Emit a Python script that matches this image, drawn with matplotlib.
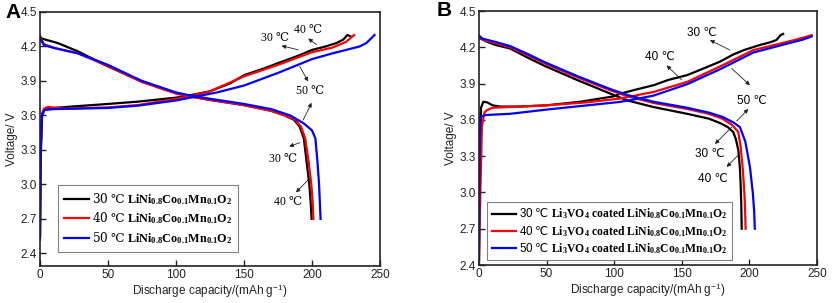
import matplotlib
matplotlib.use("Agg")
import matplotlib.pyplot as plt

plt.rcParams['font.family'] = ['Liberation Sans', 'DejaVu Sans']
plt.rcParams['mathtext.fontset'] = 'custom'
plt.rcParams['mathtext.rm'] = 'DejaVu Serif'
plt.rcParams['mathtext.bf'] = 'Liberation Serif:bold'
plt.rcParams['mathtext.it'] = 'Liberation Serif'
plt.rcParams['mathtext.sf'] = 'Liberation Sans'
plt.rcParams['mathtext.tt'] = 'DejaVu Sans'

# ---------------- Panel A data ----------------
A_ch30_x = [0, 0.5, 1.5, 3, 8, 23, 50, 72, 100, 108, 125, 140, 150, 165, 175, 190, 200, 210, 218, 223, 226, 228]
A_ch30_y = [2.55, 3.3, 3.6, 3.65, 3.663, 3.677, 3.70, 3.72, 3.755, 3.77, 3.81, 3.88, 3.95, 4.01, 4.055, 4.12, 4.17, 4.20, 4.23, 4.26, 4.30, 4.29]
A_ch40_x = [0, 0.5, 1.5, 3, 6, 10, 20, 50, 72, 100, 110, 125, 150, 175, 200, 215, 225, 231]
A_ch40_y = [2.55, 3.3, 3.62, 3.66, 3.675, 3.668, 3.66, 3.67, 3.69, 3.745, 3.765, 3.81, 3.94, 4.04, 4.15, 4.19, 4.24, 4.30]
A_ch50_x = [0, 0.5, 1.5, 3.4, 10, 30, 50, 72, 100, 115, 130, 150, 175, 200, 215, 225, 235, 240, 246]
A_ch50_y = [2.52, 3.2, 3.6, 3.648, 3.655, 3.66, 3.665, 3.685, 3.73, 3.765, 3.80, 3.86, 3.97, 4.09, 4.14, 4.17, 4.20, 4.23, 4.30]

A_dc30_x = [0, 1, 13, 28, 47.5, 72, 96.5, 106, 125, 150, 170, 180, 187, 191, 194, 196, 198, 199, 199.7]
A_dc30_y = [4.29, 4.27, 4.23, 4.157, 4.04, 3.91, 3.81, 3.775, 3.735, 3.69, 3.64, 3.60, 3.56, 3.50, 3.40, 3.20, 3.0, 2.85, 2.70]
A_dc40_x = [0, 3, 10.8, 28, 50, 75, 100, 110, 125, 150, 170, 180, 188, 192, 195, 197.5, 199.5, 200.5, 201]
A_dc40_y = [4.28, 4.22, 4.186, 4.14, 4.03, 3.89, 3.79, 3.765, 3.735, 3.69, 3.64, 3.60, 3.56, 3.50, 3.40, 3.20, 3.0, 2.85, 2.70]
A_dc50_x = [0, 3, 10.8, 28, 50, 75, 100, 110, 125, 150, 170, 184, 194, 200, 202.5, 204, 205.2, 206.3]
A_dc50_y = [4.27, 4.21, 4.186, 4.14, 4.04, 3.90, 3.80, 3.775, 3.745, 3.70, 3.655, 3.60, 3.53, 3.47, 3.40, 3.20, 3.0, 2.70]

# ---------------- Panel B data ----------------
B_ch30_x = [0, 0.5, 1.5, 3.2, 6, 10, 15.5, 30, 50, 75, 100, 104, 116, 129, 140, 154, 165, 178, 188, 196, 208, 215, 220, 223, 225]
B_ch30_y = [2.45, 3.3, 3.70, 3.75, 3.745, 3.72, 3.71, 3.71, 3.72, 3.75, 3.795, 3.815, 3.85, 3.886, 3.93, 3.97, 4.02, 4.08, 4.14, 4.177, 4.22, 4.24, 4.26, 4.30, 4.31]
B_ch40_x = [0, 1, 2.2, 4, 5.9, 10, 20, 50, 80, 104, 115, 129, 154, 178, 203, 228, 240, 246]
B_ch40_y = [2.45, 3.0, 3.55, 3.66, 3.68, 3.70, 3.705, 3.72, 3.745, 3.776, 3.80, 3.83, 3.914, 4.04, 4.177, 4.245, 4.28, 4.30]
B_ch50_x = [0, 0.5, 1, 5, 23, 50, 80, 104, 115, 129, 154, 178, 203, 228, 240, 246]
B_ch50_y = [2.45, 3.3, 3.624, 3.64, 3.65, 3.685, 3.72, 3.748, 3.77, 3.80, 3.895, 4.017, 4.157, 4.23, 4.265, 4.29]

B_dc30_x = [0, 5, 12, 23, 35, 47.8, 72.5, 97.1, 110, 129, 154, 170, 178, 184, 188, 190, 191.8, 193, 193.5, 194, 194.3]
B_dc30_y = [4.28, 4.25, 4.22, 4.19, 4.12, 4.05, 3.93, 3.817, 3.76, 3.706, 3.65, 3.61, 3.575, 3.54, 3.50, 3.44, 3.35, 3.2, 3.07, 2.9, 2.70]
B_dc40_x = [0, 3, 12, 23, 35, 48, 72, 97, 110, 129, 154, 170, 180, 187, 191.8, 193.5, 195, 196, 196.7, 197.2]
B_dc40_y = [4.30, 4.26, 4.235, 4.20, 4.14, 4.07, 3.955, 3.845, 3.795, 3.74, 3.69, 3.65, 3.61, 3.56, 3.50, 3.38, 3.21, 3.05, 2.9, 2.70]
B_dc50_x = [0, 3, 12, 23, 35, 48, 72, 97, 110, 129, 154, 170, 180, 188, 193, 197, 200.4, 202.5, 203.5, 204]
B_dc50_y = [4.29, 4.27, 4.245, 4.21, 4.15, 4.08, 3.965, 3.855, 3.805, 3.75, 3.70, 3.66, 3.625, 3.58, 3.54, 3.42, 3.21, 3.0, 2.85, 2.70]

CEL = "\u2103"
temp_values = ["30", "40", "50"]
temps = [t + " " + CEL for t in temp_values]
colors = ["#000000", "#ff0000", "#0000ff"]
yticks = [2.4, 2.7, 3.0, 3.3, 3.6, 3.9, 4.2, 4.5]
xticks = [0, 50, 100, 150, 200, 250]
compA = r"\mathbf{LiNi_{0.8}Co_{0.1}Mn_{0.1}O_2}"
compB = r"\mathbf{Li_3VO_4\ coated\ LiNi_{0.8}Co_{0.1}Mn_{0.1}O_2}"

labelsA = ["$\\mathit{" + t + "\\ }\\mathrm{" + CEL + "}\\ " + compA + "$" for t in temp_values]
labelsB = ["$\\mathsf{" + t + "\\ }\\mathtt{" + CEL + "}\\ " + compB + "$" for t in temp_values]

fig = plt.figure(figsize=(8.35, 3.03), dpi=100)
axA = fig.add_axes([40/835, 1-266/303, 340/835, 254/303])
axB = fig.add_axes([479/835, 1-265/303, 338/835, 254/303])

lw = 1.6
chA = [(A_ch30_x, A_ch30_y), (A_ch40_x, A_ch40_y), (A_ch50_x, A_ch50_y)]
dcA = [(A_dc30_x, A_dc30_y), (A_dc40_x, A_dc40_y), (A_dc50_x, A_dc50_y)]
chB = [(B_ch30_x, B_ch30_y), (B_ch40_x, B_ch40_y), (B_ch50_x, B_ch50_y)]
dcB = [(B_dc30_x, B_dc30_y), (B_dc40_x, B_dc40_y), (B_dc50_x, B_dc50_y)]

for i in range(3):
    axA.plot(*chA[i], color=colors[i], lw=lw, label=labelsA[i])
    axA.plot(*dcA[i], color=colors[i], lw=lw)
    axB.plot(*chB[i], color=colors[i], lw=lw, label=labelsB[i])
    axB.plot(*dcB[i], color=colors[i], lw=lw)

for ax, ylo in ((axA, 2.29), (axB, 2.4)):
    ax.set_xlim(0, 250)
    ax.set_ylim(ylo, 4.5)
    ax.set_xticks(xticks)
    ax.set_yticks(yticks)
    ax.set_yticklabels([f"{v:.1f}" for v in yticks])
    ax.tick_params(direction='in', length=4, width=1, labelsize=8.5, pad=2, colors='#222222', labelcolor='#222222')
    for s in ax.spines.values():
        s.set_linewidth(1.2)
        s.set_color('#222222')
    ax.set_xlabel("Discharge capacity/(mAh g$^{\\mathsf{-1}}$)", fontsize=8.5, labelpad=1, color='#222222')
    ax.set_ylabel("Voltage/ V", fontsize=8.5, labelpad=2, color='#222222')

legA = axA.legend(loc='upper left', bbox_to_anchor=(0.053, 0.319), borderaxespad=0,
                  prop={'size': 8.7},
                  fancybox=False, edgecolor='#808080', framealpha=1, handlelength=2.1,
                  handletextpad=0.2, labelspacing=0.3, borderpad=0.5)
legA.get_frame().set_linewidth(0.8)
legB = axB.legend(loc='upper left', bbox_to_anchor=(0.024, 0.248), borderaxespad=0,
                  prop={'size': 8.4},
                  fancybox=False, edgecolor='#808080', framealpha=1, handlelength=2.1,
                  handletextpad=0.2, labelspacing=0.2, borderpad=0.4)
legB.get_frame().set_linewidth(0.8)

fig.text(5/835, 1-12/303, "A", fontsize=15, fontweight='bold', va='center', ha='left')
fig.text(437/835, 1-11/303, "B", fontsize=15, fontweight='bold', va='center', ha='left')

ap = dict(arrowstyle='-|>', color='#222222', lw=0.6, mutation_scale=6, shrinkA=0, shrinkB=0)
serif = ['Liberation Serif', 'DejaVu Serif']
sans = ['Liberation Sans', 'DejaVu Sans']

# Panel A annotations
axA.text(172.7, 4.27, temps[0], family=serif, fontsize=8.5, ha='center', va='center')
axA.annotate("", xy=(177.6, 4.206), xytext=(189.9, 4.171), arrowprops=ap)
axA.text(197.2, 4.34, temps[1], family=serif, fontsize=8.5, ha='center', va='center')
axA.annotate("", xy=(197.2, 4.27), xytext=(203.4, 4.215), arrowprops=ap)
axA.text(198.5, 3.81, temps[2], family=serif, fontsize=8.5, ha='center', va='center')
axA.annotate("", xy=(197.2, 3.895), xytext=(191.0, 4.026), arrowprops=ap)
axA.annotate("", xy=(199.7, 3.71), xytext=(193.5, 3.56), arrowprops=ap)
axA.text(178.8, 3.218, temps[0], family=serif, fontsize=8.5, ha='center', va='center')
axA.annotate("", xy=(183.2, 3.33), xytext=(191.0, 3.363), arrowprops=ap)
axA.text(182.5, 2.85, temps[1], family=serif, fontsize=8.5, ha='center', va='center')
axA.annotate("", xy=(188.2, 2.93), xytext=(197.2, 3.04), arrowprops=ap)

# Panel B annotations
axB.text(164.7, 4.315, temps[0], family=sans, fontsize=8.5, ha='center', va='center')
axB.annotate("", xy=(170.8, 4.26), xytext=(185.6, 4.177), arrowprops=ap)
axB.text(201.7, 3.76, temps[2], family=sans, fontsize=8.5, ha='center', va='center')
axB.annotate("", xy=(200.4, 3.886), xytext=(186.9, 4.025), arrowprops=ap)
axB.text(133.9, 4.12, temps[1], family=sans, fontsize=8.5, ha='center', va='center')
axB.annotate("", xy=(138.8, 4.05), xytext=(149.9, 3.93), arrowprops=ap)
axB.annotate("", xy=(199.2, 3.69), xytext=(190.6, 3.59), arrowprops=ap)
axB.text(171.0, 3.32, temps[0], family=sans, fontsize=8.5, ha='center', va='center')
axB.annotate("", xy=(174.5, 3.40), xytext=(186.9, 3.54), arrowprops=ap)
axB.text(173.3, 3.11, temps[1], family=sans, fontsize=8.5, ha='center', va='center')
axB.annotate("", xy=(183.2, 3.21), xytext=(191.8, 3.31), arrowprops=ap)

fig.savefig("out.png", dpi=100)
